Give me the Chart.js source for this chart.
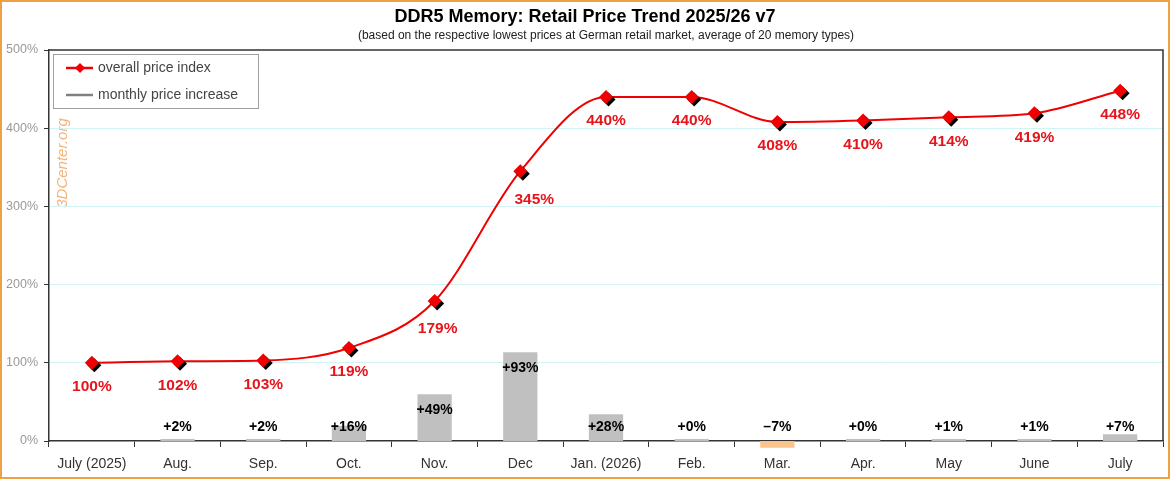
<!DOCTYPE html>
<html>
<head>
<meta charset="utf-8">
<script src="https://cdn.jsdelivr.net/npm/chart.js@4.4.1/dist/chart.umd.min.js"></script>
<style>
  html, body { margin: 0; padding: 0; background: #fff; }
  #wrap { width: 1170px; height: 479px; position: relative; }
</style>
</head>
<body>
<div id="wrap"><canvas id="priceChart"></canvas></div>
<script>
// Chart data
const MONTHS = ['July (2025)', 'Aug.', 'Sep.', 'Oct.', 'Nov.', 'Dec', 'Jan. (2026)', 'Feb.', 'Mar.', 'Apr.', 'May', 'June', 'July'];
const PRICE_INDEX = [100, 102, 103, 119, 179, 345, 440, 440, 408, 410, 414, 419, 448];
const MONTHLY_CHANGE = [null, 2, 2, 16, 49, 93, 28, 0, -7, 0, 1, 1, 7];
const CHANGE_LABELS = ['', '+2%', '+2%', '+16%', '+49%', '+93%', '+28%', '+0%', '\u20137%', '+0%', '+1%', '+1%', '+7%'];

const TITLE = 'DDR5 Memory: Retail Price Trend 2025/26 v7';
const SUBTITLE = '(based on the respective lowest prices at German retail market, average of 20 memory types)';

// Colors
const COLORS = {
    red: '#f00000',
    label: '#e8141c',
    bar: '#c0c0c0',
    negBar: '#fbc48c',
    grid: '#d2f3f3',
    axis: '#333333',
    frame: '#f0a040',
    watermark: '#f2b47a'
};

const FONT = 'Arial, "Liberation Sans", sans-serif';

/**
 * Background, outer frame, title
 */
const backgroundPlugin = {
    id: 'background',
    beforeDraw(chart) {
        const ctx = chart.ctx;
        ctx.save();
        ctx.fillStyle = '#fff';
        ctx.fillRect(0, 0, chart.width, chart.height);
        ctx.strokeStyle = COLORS.frame;
        ctx.lineWidth = 2;
        ctx.strokeRect(1, 1, chart.width - 2, chart.height - 2);

        ctx.fillStyle = '#000';
        ctx.textAlign = 'center';
        ctx.textBaseline = 'middle';
        ctx.font = 'bold 18px ' + FONT;
        ctx.fillText(TITLE, 585, 17);
        ctx.fillStyle = '#222';
        ctx.font = '12px ' + FONT;
        ctx.fillText(SUBTITLE, 606, 36);

        // watermark
        ctx.translate(63, 163);
        ctx.rotate(-Math.PI / 2);
        ctx.fillStyle = COLORS.watermark;
        ctx.font = 'italic 15px ' + FONT;
        ctx.fillText('3DCenter.org', 0, 0);
        ctx.restore();
    },
    afterDatasetsDraw(chart) {
        // plot frame on top / right
        const a = chart.chartArea;
        const ctx = chart.ctx;
        ctx.save();
        ctx.strokeStyle = COLORS.axis;
        ctx.lineWidth = 1.5;
        ctx.beginPath();
        ctx.moveTo(a.left, a.top);
        ctx.lineTo(a.right, a.top);
        ctx.lineTo(a.right, a.bottom);
        ctx.stroke();
        ctx.restore();
    }
};

/**
 * Point shadow for the diamond markers
 */
const shadowPlugin = {
    id: 'pointShadow',
    beforeDatasetDraw(chart, args) {
        if (args.index === 2) {
            const ctx = chart.ctx;
            ctx.save();
            ctx.shadowColor = 'rgba(0,0,0,1)';
            ctx.shadowOffsetX = 2.5;
            ctx.shadowOffsetY = 2.5;
            ctx.shadowBlur = 0;
        }
    },
    afterDatasetDraw(chart, args) {
        if (args.index === 2) {
            chart.ctx.restore();
        }
    }
};

/**
 * Value labels for line and bars, plus the legend box
 */
const labelsPlugin = {
    id: 'valueLabels',
    afterDraw(chart) {
        const ctx = chart.ctx;
        ctx.save();
        ctx.textAlign = 'center';
        ctx.textBaseline = 'middle';

        // bar labels
        const barMeta = chart.getDatasetMeta(0);
        ctx.font = 'bold 14px ' + FONT;
        ctx.fillStyle = '#000';
        barMeta.data.forEach((bar, i) => {
            if (!CHANGE_LABELS[i]) return;
            const top = Math.min(bar.y, bar.base);
            const y = Math.min(top + 16, chart.chartArea.bottom - 14);
            ctx.fillText(CHANGE_LABELS[i], bar.x, y);
        });

        // line labels
        const lineMeta = chart.getDatasetMeta(2);
        ctx.font = 'bold 15.5px ' + FONT;
        ctx.fillStyle = COLORS.label;
        lineMeta.data.forEach((pt, i) => {
            let dx = 0, dy = 24;
            if (i === 4) { dx = 3; dy = 28; }
            if (i === 5) { dx = 14; dy = 29; }
            ctx.fillText(PRICE_INDEX[i] + '%', pt.x + dx, pt.y + dy);
        });

        // legend
        const lx = 53, ly = 54, lw = 205, lh = 54;
        ctx.fillStyle = '#fff';
        ctx.fillRect(lx, ly, lw, lh);
        ctx.strokeStyle = '#a0a0a0';
        ctx.lineWidth = 1;
        ctx.strokeRect(lx + 0.5, ly + 0.5, lw, lh);

        ctx.lineWidth = 2.5;
        ctx.strokeStyle = COLORS.red;
        ctx.beginPath();
        ctx.moveTo(66, 68);
        ctx.lineTo(93, 68);
        ctx.stroke();
        ctx.fillStyle = COLORS.red;
        ctx.beginPath();
        ctx.moveTo(80, 63);
        ctx.lineTo(85, 68);
        ctx.lineTo(80, 73);
        ctx.lineTo(75, 68);
        ctx.closePath();
        ctx.fill();

        ctx.strokeStyle = '#808080';
        ctx.beginPath();
        ctx.moveTo(66, 95);
        ctx.lineTo(93, 95);
        ctx.stroke();

        ctx.fillStyle = '#444';
        ctx.textAlign = 'left';
        ctx.font = '14px ' + FONT;
        ctx.fillText('overall price index', 98, 68);
        ctx.fillText('monthly price increase', 98, 95);
        ctx.restore();
    }
};

function initChart() {
    const ctx = document.getElementById('priceChart');

    new Chart(ctx, {
        data: {
            labels: MONTHS,
            datasets: [
                {
                    type: 'bar',
                    label: 'monthly price increase',
                    data: MONTHLY_CHANGE,
                    yAxisID: 'y1',
                    backgroundColor: MONTHLY_CHANGE.map(v => v < 0 ? COLORS.negBar : COLORS.bar),
                    barPercentage: 0.4,
                    categoryPercentage: 1,
                    minBarLength: 2,
                    clip: false,
                    order: 3
                },
                {
                    type: 'line',
                    label: 'overall price index',
                    data: PRICE_INDEX,
                    yAxisID: 'y',
                    borderColor: COLORS.red,
                    borderWidth: 2,
                    pointRadius: 0,
                    cubicInterpolationMode: 'monotone',
                    fill: false,
                    order: 2
                },
                {
                    type: 'line',
                    label: 'markers',
                    data: PRICE_INDEX,
                    yAxisID: 'y',
                    showLine: false,
                    pointStyle: 'rectRot',
                    pointRadius: 7,
                    pointBackgroundColor: COLORS.red,
                    pointBorderColor: COLORS.red,
                    pointBorderWidth: 0,
                    clip: false,
                    order: 1
                }
            ]
        },
        options: {
            responsive: true,
            maintainAspectRatio: false,
            animation: false,
            layout: {
                padding: { top: 50, right: 7, left: 0, bottom: 0 }
            },
            plugins: {
                legend: { display: false },
                tooltip: { enabled: false }
            },
            scales: {
                x: {
                    offset: true,
                    grid: {
                        offset: true,
                        drawOnChartArea: false,
                        drawTicks: true,
                        tickLength: 6,
                        color: COLORS.axis,
                        tickColor: COLORS.axis
                    },
                    border: { display: true, color: COLORS.axis, width: 1.5 },
                    ticks: {
                        color: '#333',
                        font: { family: FONT, size: 14 },
                        padding: 9,
                        maxRotation: 0,
                        autoSkip: false
                    },
                    afterFit: function(scale) { scale.height = 38; }
                },
                y: {
                    min: 0,
                    max: 500,
                    grid: {
                        color: function(c) {
                            const v = c.tick.value;
                            return (v === 0 || v === 500) ? 'rgba(0,0,0,0)' : COLORS.grid;
                        },
                        tickColor: COLORS.axis,
                        tickLength: 5,
                        lineWidth: 1
                    },
                    border: { display: true, color: COLORS.axis, width: 1.5 },
                    ticks: {
                        stepSize: 100,
                        color: '#999',
                        font: { family: FONT, size: 12.5 },
                        padding: 6,
                        callback: function(v) { return v + '%'; }
                    },
                    afterFit: function(scale) { scale.width = 49; }
                },
                y1: {
                    display: false,
                    min: 0,
                    max: 410
                }
            }
        },
        plugins: [backgroundPlugin, shadowPlugin, labelsPlugin]
    });
}

if (document.readyState === 'loading') {
    document.addEventListener('DOMContentLoaded', initChart);
} else {
    initChart();
}
</script>
</body>
</html>
